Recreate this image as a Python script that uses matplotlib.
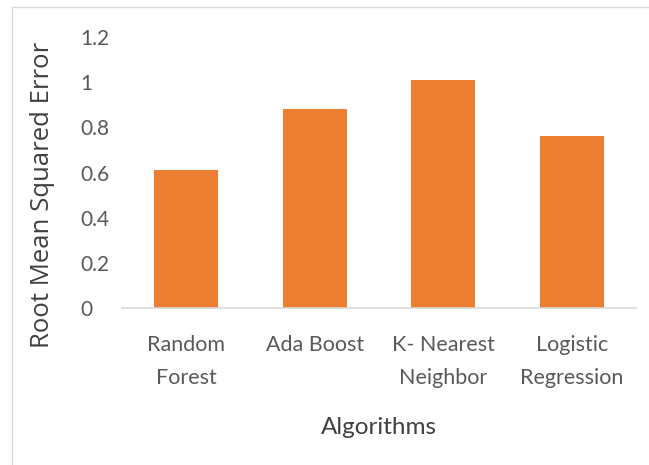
import matplotlib.pyplot as plt
from matplotlib.patches import Rectangle

# data
algorithms = ['Random\nForest', 'Ada Boost', 'K- Nearest\nNeighbor', 'Logistic\nRegression']
rmse = [0.61, 0.88, 1.01, 0.76]
y_ticks = [0, 0.2, 0.4, 0.6, 0.8, 1.0, 1.2]
y_tick_labels = ['0', '0.2', '0.4', '0.6', '0.8', '1', '1.2']

bar_color = '#ED7D31'
text_color = '#595959'
font = ['Lato', 'DejaVu Sans']

fig = plt.figure(figsize=(6.49, 4.65), dpi=100)
ax = fig.add_axes([122 / 649, 1 - 308 / 465, 514 / 649, 271 / 465])

x = range(len(algorithms))
ax.bar(x, rmse, width=0.5, color=bar_color, zorder=2)

ax.set_xlim(-0.5, len(algorithms) - 0.5)
ax.set_ylim(0, 1.2)
ax.set_yticks(y_ticks)
ax.set_yticklabels(y_tick_labels, family=font, fontsize=15,
                   color=text_color, ha='left')
ax.set_xticks(list(x))
ax.set_xticklabels(algorithms, family=font, fontsize=15.5,
                   color=text_color, linespacing=1.78)
ax.tick_params(axis='y', length=0, pad=30)
ax.tick_params(axis='x', length=0, pad=19.5)

for side in ['top', 'right', 'left']:
    ax.spines[side].set_visible(False)
ax.spines['bottom'].set_color('#D9D9D9')
ax.spines['bottom'].set_linewidth(1.2)

fig.text(43 / 649, 1 - 195 / 465, 'Root Mean Squared Error', rotation=90,
         ha='center', va='center', fontsize=18.5, color='#404040',
         family=['Open Sans', 'DejaVu Sans'])
fig.text(379 / 649, 1 - 427 / 465, 'Algorithms', ha='center', va='center',
         fontsize=17.5, color='#404040', family=font)

# light chart-area frame
fig.patches.append(Rectangle((12 / 649, -0.05), 1.1, 1 - 7 / 465 + 0.05,
                             transform=fig.transFigure, fill=False,
                             edgecolor='#D9D9D9', linewidth=1))

fig.savefig('out.png', dpi=100)
